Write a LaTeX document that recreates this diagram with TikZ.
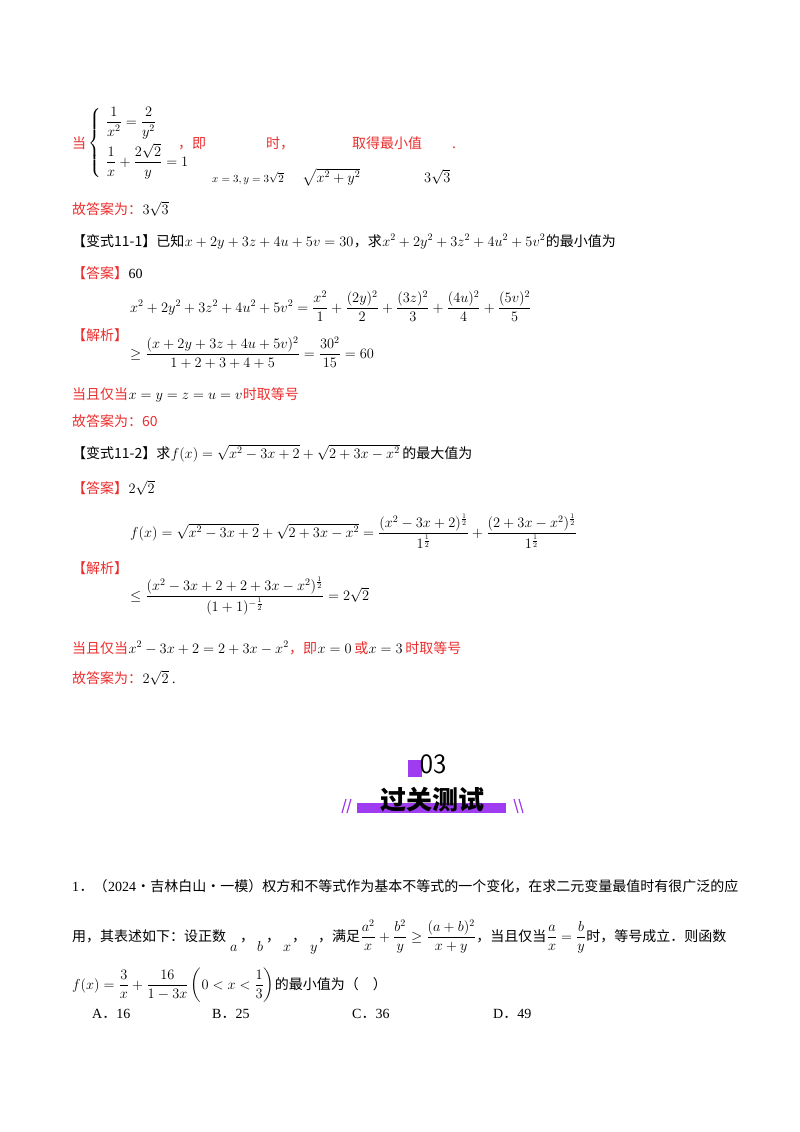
\documentclass[tikz,border=0pt]{standalone}
\usepackage{fontspec}
\usepackage{amsmath}
\setmainfont{Liberation Serif}
\newfontfamily\cjk{Noto Sans CJK SC}
\definecolor{ans}{RGB}{235,45,45}
\definecolor{pur}{RGB}{160,60,240}
\begin{document}
\begin{tikzpicture}[x=1pt,y=-1pt,
  txt/.style={anchor=base west,inner sep=0pt,font=\fontsize{14}{17}\selectfont},
  red/.style={txt,text=ans,font=\fontsize{14}{17}\selectfont\cjk},
  cj/.style={txt,font=\fontsize{14}{17}\selectfont\cjk},
  sml/.style={anchor=base west,inner sep=0pt,font=\fontsize{11}{13}\selectfont}]
\useasboundingbox (0,0) rectangle (800,1132);
% block 1
\node[red] (a1) at (72,148) {当};
\node[txt,anchor=west] (a2) at (88,143) {$\left\{\begin{array}{l}\dfrac{1}{x^2}=\dfrac{2}{y^2}\\[12pt] \dfrac{1}{x}+\dfrac{2\sqrt2}{y}=1\end{array}\right.$};
\node[red] (a3) at (178,148) {，即};
\node[red] (a4) at (266,148) {时，};
\node[red] (a5) at (352,148) {取得最小值};
\node[red] (a6) at (452,148) {.};
\node[sml] (a7) at (212,182) {$x=3,y=3\sqrt2$};
\node[txt] (a8) at (302,182) {$\sqrt{x^2+y^2}$};
\node[txt] (a9) at (424,182) {$3\sqrt3$};
\node[red] (b1) at (72,214) {故答案为：};
\node[txt] (b2) at (b1.base east) {$3\sqrt3$};
% 11-1
\node[cj] (c1) at (72,246) {【变式11-1】已知};
\node[txt] (c2) at (c1.base east) {$x+2y+3z+4u+5v=30$};
\node[cj] (c3) at (c2.base east) {，求};
\node[txt] (c4) at (c3.base east) {$x^2+2y^2+3z^2+4u^2+5v^2$};
\node[cj] (c5) at (c4.base east) {的最小值为};
\node[red] (d1) at (72,278) {【答案】};
\node[txt] (d2) at (d1.base east) {60};
\node[txt] (e1) at (130,312) {$x^2+2y^2+3z^2+4u^2+5v^2=\dfrac{x^2}{1}+\dfrac{(2y)^2}{2}+\dfrac{(3z)^2}{3}+\dfrac{(4u)^2}{4}+\dfrac{(5v)^2}{5}$};
\node[red] (e2) at (72,340) {【解析】};
\node[txt] (e3) at (130,358) {$\geq\dfrac{(x+2y+3z+4u+5v)^2}{1+2+3+4+5}=\dfrac{30^2}{15}=60$};
\node[red] (f1) at (72,399) {当且仅当};
\node[txt] (f2) at (f1.base east) {$x=y=z=u=v$};
\node[red] (f3) at (f2.base east) {时取等号};
\node[red] (g1) at (72,426) {故答案为：60};
% 11-2
\node[cj] (h1) at (72,458) {【变式11-2】求};
\node[txt] (h2) at (h1.base east) {$f(x)=\sqrt{x^2-3x+2}+\sqrt{2+3x-x^2}$};
\node[cj] (h3) at (h2.base east) {\,的最大值为};
\node[red] (i1) at (72,493) {【答案】};
\node[txt] (i2) at (i1.base east) {$2\sqrt2$};
\node[txt] (j1) at (130,537) {$f(x)=\sqrt{x^2-3x+2}+\sqrt{2+3x-x^2}=\dfrac{(x^2-3x+2)^{\frac12}}{1^{\frac12}}+\dfrac{(2+3x-x^2)^{\frac12}}{1^{\frac12}}$};
\node[red] (j2) at (72,573) {【解析】};
\node[txt] (j3) at (130,600) {$\leq\dfrac{(x^2-3x+2+2+3x-x^2)^{\frac12}}{(1+1)^{-\frac12}}=2\sqrt2$};
\node[red] (k1) at (72,653) {当且仅当};
\node[txt] (k2) at (k1.base east) {$x^2-3x+2=2+3x-x^2$};
\node[red] (k3) at (k2.base east) {，即};
\node[txt] (k4) at (k3.base east) {$x=0$};
\node[red] (k5) at (k4.base east) {\,或};
\node[txt] (k6) at (k5.base east) {$x=3$};
\node[red] (k7) at (k6.base east) {\,时取等号};
\node[red] (l1) at (72,683) {故答案为：};
\node[txt] (l2) at (l1.base east) {$2\sqrt2$ .};
% banner
\fill[pur] (408,760) rectangle (422,777);
\node[inner sep=0pt,font=\fontsize{28}{30}\selectfont\sffamily] (m1) at (433,764) {03};
\fill[pur] (357,803) rectangle (506,813);
\node[inner sep=0pt,font=\fontsize{26}{28}\selectfont\cjk\bfseries] (m2) at (432,800) {过关测试};
\draw[pur,line width=1.2pt] (342,813)--(346,799) (347,813)--(351,799);
\draw[pur,line width=1.2pt] (514,799)--(518,813) (519,799)--(523,813);
% question
\node[txt] (q0) at (72,891) {1};
\node[cj] (q1) at (q0.base east) {．（};
\node[txt] (q1b) at (q1.base east) {2024};
\node[cj] (q1c) at (q1b.base east) {·吉林白山·一模）权方和不等式作为基本不等式的一个变化，在求二元变量最值时有很广泛的应};
\node[cj] (q2) at (72,941) {用，其表述如下：设正数};
\node[txt] (q3) at (230,951) {$a$};
\node[cj] (q4) at (240,941) {，};
\node[txt] (q5) at (257,951) {$b$};
\node[cj] (q6) at (266,941) {，};
\node[txt] (q7) at (283,951) {$x$};
\node[cj] (q8) at (292,941) {，};
\node[txt] (q9) at (310,951) {$y$};
\node[cj] (q10) at (318,941) {，满足};
\node[txt] (q11) at (q10.base east) {$\dfrac{a^2}{x}+\dfrac{b^2}{y}\geq\dfrac{(a+b)^2}{x+y}$};
\node[cj] (q12) at (q11.base east) {，当且仅当};
\node[txt] (q13) at (q12.base east) {$\dfrac{a}{x}=\dfrac{b}{y}$};
\node[cj] (q14) at (q13.base east) {时，等号成立．则函数};
\node[txt] (q15) at (72,989) {$f(x)=\dfrac{3}{x}+\dfrac{16}{1-3x}\left(0<x<\dfrac13\right)$};
\node[cj] (q16) at (q15.base east) {的最小值为（\quad）};
\node[txt] (r1) at (92,1018) {A{\cjk ．}16};
\node[txt] (r2) at (212,1018) {B{\cjk ．}25};
\node[txt] (r3) at (352,1018) {C{\cjk ．}36};
\node[txt] (r4) at (493,1018) {D{\cjk ．}49};
\end{tikzpicture}
\end{document}
